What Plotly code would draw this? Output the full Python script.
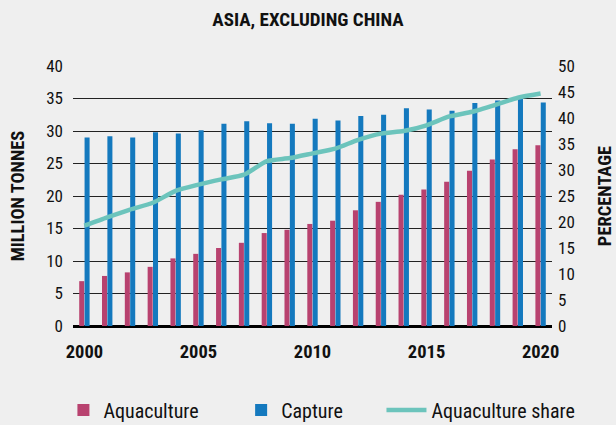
import plotly.graph_objects as go

years = list(range(2000, 2021))
aquaculture = [6.9, 7.7, 8.25, 9.1, 10.4, 11.1, 12.0, 12.8, 14.3, 14.8, 15.7,
               16.2, 17.8, 19.1, 20.2, 21.0, 22.2, 23.9, 25.6, 27.2, 27.8]
capture = [29.0, 29.2, 29.0, 29.8, 29.6, 30.1, 31.1, 31.5, 31.2, 31.1, 31.9,
           31.6, 32.3, 32.5, 33.5, 33.3, 33.1, 34.3, 34.7, 35.0, 34.4]
share = [19.3, 20.9, 22.4, 23.7, 26.0, 27.2, 28.2, 29.1, 31.7, 32.3, 33.2,
         34.1, 35.8, 37.0, 37.5, 38.6, 40.3, 41.2, 42.5, 43.9, 44.7]
xticks = [2000, 2005, 2010, 2015, 2020]
left_ticks = list(range(0, 41, 5))
right_ticks = list(range(0, 51, 5))

FONT = "Roboto Condensed, Liberation Sans Narrow, DejaVu Sans Condensed, sans-serif"
PINK = "#b8426f"
BLUE = "#1479be"
TEAL = "#6cc4bc"
BG = "#efefef"
TXT = "#111111"

fig = go.Figure()
fig.add_trace(go.Bar(x=years, y=aquaculture, name="Aquaculture", legend="legend",
                     marker=dict(color=PINK, line=dict(width=0))))
fig.add_trace(go.Bar(x=years, y=capture, name="Capture", legend="legend2",
                     marker=dict(color=BLUE, line=dict(width=0))))
fig.add_trace(go.Scatter(x=years, y=share, name="Aquaculture share", yaxis="y2",
                         legend="legend3", mode="lines",
                         line=dict(color=TEAL, width=4.5, shape="spline", smoothing=0.6)))

leg_common = dict(orientation="h", y=-0.323, yanchor="middle", xanchor="left",
                  font=dict(size=20, family=FONT, color=TXT),
                  bgcolor="rgba(0,0,0,0)", borderwidth=0)

fig.update_layout(
    width=616, height=425,
    paper_bgcolor=BG, plot_bgcolor=BG,
    margin=dict(l=73, r=64, t=66, b=99, autoexpand=False),
    font=dict(family=FONT, size=17, color=TXT),
    title=dict(text="<b>ASIA, EXCLUDING CHINA</b>", x=0.5, xanchor="center",
               y=0.955, yanchor="middle", font=dict(size=19, family=FONT, color=TXT)),
    barmode="group", bargap=0.53, bargroupgap=0.06,
    showlegend=True,
    legend=dict(leg_common, x=-0.02, itemwidth=30),
    legend2=dict(leg_common, x=0.351, itemwidth=30),
    legend3=dict(leg_common, x=0.644, itemwidth=40),
    xaxis=dict(range=[1999.5, 2020.5], tickvals=xticks,
               ticktext=[f"<b>{v}</b>" for v in xticks],
               showgrid=False, zeroline=False, showline=False, ticks="",
               ticklabelstandoff=12, tickfont=dict(size=18.5, family=FONT, color=TXT)),
    yaxis=dict(range=[0, 40], tickvals=left_ticks, showgrid=True,
               gridcolor="#222", gridwidth=1, zeroline=True, zerolinecolor="#000",
               zerolinewidth=3, ticks="", ticklabelstandoff=9,
               tickfont=dict(size=17, family=FONT, color=TXT),
               title=dict(text="<b>MILLION TONNES</b>", standoff=16,
                          font=dict(size=18.5, family=FONT, color=TXT))),
    yaxis2=dict(range=[0, 50], tickvals=right_ticks, overlaying="y", side="right",
                showgrid=False, zeroline=False, ticks="", ticklabelstandoff=5,
                tickfont=dict(size=17, family=FONT, color=TXT),
                title=dict(text="<b>PERCENTAGE</b>", standoff=24,
                           font=dict(size=18.5, family=FONT, color=TXT))),
)

fig.write_html("out.html", config={"displayModeBar": False},
               post_script="document.body.style.margin='0';document.body.style.background='#efefef';")
